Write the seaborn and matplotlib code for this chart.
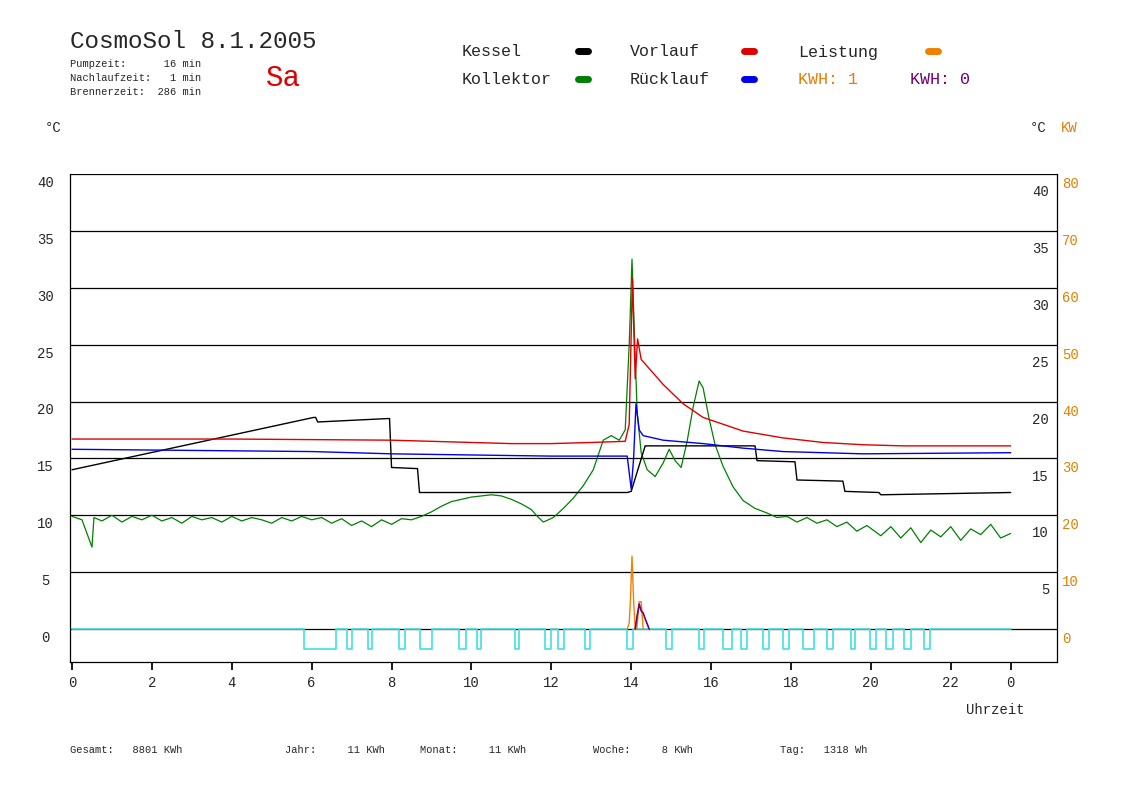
import numpy as np
import matplotlib.pyplot as plt
import seaborn as sns
from matplotlib.lines import Line2D

sns.set_theme(style='white')
plt.rcParams['font.family'] = ['Liberation Mono', 'DejaVu Sans Mono']

# --- data (hours / degC) ---
kessel_t = [0, 6.05, 6.1, 6.15, 7.9, 7.95, 8.0, 8.65, 8.7, 13.9, 14.0, 14.35, 17.1, 17.15, 18.1, 18.15, 19.3, 19.35, 20.2, 20.25, 23.5]
kessel_v = [14.0, 18.6, 18.6, 18.2, 18.5, 18.5, 14.2, 14.1, 12.0, 12.0, 12.1, 16.1, 16.1, 14.8, 14.7, 13.1, 13.0, 12.1, 12.0, 11.8, 12.0]

vorlauf_t = [0, 4, 8, 9, 11, 12, 13, 13.85, 13.95, 14.03, 14.1, 14.16, 14.25, 14.8, 15.3, 15.8, 16.8, 17.8, 18.8, 19.8, 20.8, 23.5]
vorlauf_v = [16.7, 16.7, 16.6, 16.5, 16.3, 16.3, 16.4, 16.5, 18.0, 30.8, 22.0, 25.5, 23.7, 21.5, 19.8, 18.6, 17.4, 16.8, 16.4, 16.2, 16.1, 16.1]

ruecklauf_t = [0, 6, 8, 12, 13.9, 14.0, 14.06, 14.12, 14.2, 14.3, 14.8, 15.8, 16.8, 17.8, 19.8, 23.5]
ruecklauf_v = [15.8, 15.6, 15.4, 15.2, 15.2, 12.3, 15.0, 19.8, 17.5, 17.0, 16.6, 16.3, 15.9, 15.6, 15.4, 15.5]

kollektor_t = [0.0, 0.25, 0.5, 0.55, 0.75, 1.0, 1.25, 1.5, 1.75, 2.0, 2.25, 2.5, 2.75, 3.0, 3.25, 3.5, 3.75,
               4.0, 4.25, 4.5, 4.75, 5.0, 5.25, 5.5, 5.75, 6.0, 6.25, 6.5, 6.75, 7.0, 7.25, 7.5, 7.75, 8.0,
               8.25, 8.5, 8.75, 9.0, 9.25, 9.5, 9.75, 10.0, 10.25, 10.5, 10.75, 11.0, 11.25, 11.5, 11.65,
               11.8, 12.05, 12.3, 12.55, 12.8, 13.05, 13.3, 13.5, 13.7, 13.85, 13.95, 14.02, 14.08, 14.15,
               14.25, 14.4, 14.6, 14.8, 14.95, 15.1, 15.25, 15.4, 15.55, 15.7, 15.8, 15.95, 16.1, 16.3,
               16.55, 16.8, 17.1, 17.4, 17.65, 17.9, 18.15, 18.4, 18.65, 18.9, 19.15, 19.4, 19.65, 19.9,
               20.25, 20.5, 20.75, 21.0, 21.25, 21.5, 21.75, 22.0, 22.25, 22.5, 22.75, 23.0, 23.25, 23.5]
kollektor_v = [9.9, 9.6, 7.2, 9.8, 9.5, 10.0, 9.4, 9.9, 9.6, 10.0, 9.5, 9.8, 9.3, 9.9, 9.6, 9.8, 9.4,
               9.9, 9.5, 9.8, 9.6, 9.3, 9.8, 9.5, 9.9, 9.6, 9.8, 9.3, 9.7, 9.1, 9.5, 9.0, 9.6, 9.2,
               9.7, 9.6, 9.9, 10.3, 10.8, 11.2, 11.4, 11.6, 11.7, 11.8, 11.7, 11.4, 11.0, 10.5, 9.9,
               9.4, 9.8, 10.6, 11.5, 12.6, 14.0, 16.6, 17.0, 16.6, 17.5, 25.0, 32.5, 26.0, 19.0,
               15.5, 14.0, 13.4, 14.6, 15.8, 14.8, 14.2, 16.5, 19.5, 21.8, 21.2, 18.5, 16.2, 14.3,
               12.5, 11.3, 10.6, 10.2, 9.8, 9.9, 9.4, 9.8, 9.3, 9.6, 9.0, 9.4, 8.6, 9.1,
               8.2, 9.0, 8.0, 8.9, 7.6, 8.7, 8.1, 9.0, 7.8, 8.8, 8.3, 9.2, 8.0, 8.4]

leistung_t = [13.9, 13.95, 13.98, 14.02, 14.06, 14.1, 14.14, 14.2, 14.25, 14.3]
leistung_v = [0.0, 0.5, 2.5, 6.4, 2.5, 0.0, 0.0, 2.4, 2.4, 0.0]

kwh_t = [14.1, 14.15, 14.2, 14.25, 14.3, 14.35, 14.45]
kwh_v = [0.0, 1.2, 2.2, 1.6, 1.4, 0.9, 0.0]

pumpe_start = [5.81, 6.89, 7.41, 8.19, 8.72, 9.70, 10.13, 11.08, 11.85, 12.16, 12.85, 13.90, 14.87,
               15.70, 16.29, 16.75, 17.29, 17.81, 18.30, 18.91, 19.50, 19.98, 20.39, 20.82, 21.32]
pumpe_end = [6.60, 7.02, 7.52, 8.33, 9.02, 9.87, 10.25, 11.19, 12.00, 12.31, 12.98, 14.05, 15.01,
             15.82, 16.53, 16.91, 17.44, 17.95, 18.58, 19.04, 19.61, 20.13, 20.55, 21.00, 21.47]
pumpe_tief = -1.75

x_ticks = [0, 2, 4, 6, 8, 10, 12, 14, 16, 18, 20, 22, 23.5]
x_labels = ['0', '2', '4', '6', '8', '10', '12', '14', '16', '18', '20', '22', '0']
y_ticks = [0, 5, 10, 15, 20, 25, 30, 35, 40]

fig = plt.figure(figsize=(11.48, 8.12), dpi=100, facecolor='white')
ax = fig.add_axes([70 / 1148, 1 - 663 / 812, 987 / 1148, 488 / 812])
ax.set_xlim(-0.05, 24.66)
ax.set_ylim(-2.9, 40)

for yv in y_ticks:
    ax.axhline(yv, color='black', lw=0.9, zorder=1)

# pump pulses (cyan) as step trace
px, py = [0.0], [0.0]
for s, e in zip(pumpe_start, pumpe_end):
    px += [s, s, e, e]
    py += [0.0, pumpe_tief, pumpe_tief, 0.0]
px.append(23.5)
py.append(0.0)
sns.lineplot(x=px, y=py, ax=ax, color='#40e0e0', lw=1.2, sort=False, estimator=None, zorder=2)

sns.lineplot(x=kollektor_t, y=kollektor_v, ax=ax, color='#008000', lw=0.9, sort=False, estimator=None, zorder=3)
sns.lineplot(x=kessel_t, y=kessel_v, ax=ax, color='black', lw=1.0, sort=False, estimator=None, zorder=4)
sns.lineplot(x=vorlauf_t, y=vorlauf_v, ax=ax, color='#e00000', lw=1.0, sort=False, estimator=None, zorder=4)
sns.lineplot(x=ruecklauf_t, y=ruecklauf_v, ax=ax, color='#0000ee', lw=1.0, sort=False, estimator=None, zorder=4)
sns.lineplot(x=leistung_t, y=leistung_v, ax=ax, color='#f08000', lw=1.0, sort=False, estimator=None, zorder=5)
sns.lineplot(x=kwh_t, y=kwh_v, ax=ax, color='#700070', lw=1.2, sort=False, estimator=None, zorder=5)

for sp in ['left', 'right', 'bottom']:
    ax.spines[sp].set_color('black')
    ax.spines[sp].set_linewidth(0.9)
ax.spines['top'].set_visible(False)

ax.set_xticks(x_ticks)
ax.set_xticklabels(x_labels, fontsize=10)
ax.tick_params(axis='x', direction='out', length=6, color='black', bottom=True)
ax.set_yticks([])
for yv in y_ticks:
    ax.text(-0.025, yv - 0.7, str(yv), transform=ax.get_yaxis_transform(), ha='center', va='center', fontsize=10)
    if yv > 0:
        ax.text(0.992, yv - 0.9, str(yv), transform=ax.get_yaxis_transform(), ha='right', va='top', fontsize=10)
    ax.text(1.005, yv - 0.8, str(yv * 2), transform=ax.get_yaxis_transform(), ha='left', va='center',
            fontsize=10, color='#e08000')

# header
fig.text(70 / 1148, 1 - 42 / 812, 'CosmoSol 8.1.2005', fontsize=17.5, va='center')
for i, line in enumerate(['Pumpzeit:      16 min', 'Nachlaufzeit:   1 min', 'Brennerzeit:  286 min']):
    fig.text(70 / 1148, 1 - (64 + 14 * i) / 812, line, fontsize=7.5, va='center')
fig.text(266 / 1148, 1 - 78 / 812, 'Sa', fontsize=21, color='#e00000', va='center')

legend_items = [('Kessel', 462, 52, 'black', 578), ('Vorlauf', 630, 52, '#e00000', 744),
                ('Leistung', 798, 52, '#f08000', 928), ('Kollektor', 462, 80, '#008000', 578),
                ('Rücklauf', 630, 80, '#0000ee', 744)]
for name, tx, ty, col, mx in legend_items:
    fig.text(tx / 1148, 1 - ty / 812, name, fontsize=12, va='center')
    fig.add_artist(Line2D([mx / 1148, (mx + 10) / 1148], [1 - ty / 812] * 2, color=col, lw=5,
                          solid_capstyle='round', transform=fig.transFigure))
fig.text(798 / 1148, 1 - 80 / 812, 'KWH: 1', fontsize=12, color='#e08000', va='center')
fig.text(910 / 1148, 1 - 80 / 812, 'KWH: 0', fontsize=12, color='#700070', va='center')

fig.text(45 / 1148, 1 - 128 / 812, '°C', fontsize=10, va='center')
fig.text(1030 / 1148, 1 - 128 / 812, '°C', fontsize=10, va='center')
fig.text(1061 / 1148, 1 - 128 / 812, 'KW', fontsize=10, color='#e08000', va='center')
fig.text(966 / 1148, 1 - 710 / 812, 'Uhrzeit', fontsize=10, va='center')

for txt, tx in [('Gesamt:   8801 KWh', 70), ('Jahr:     11 KWh', 285), ('Monat:     11 KWh', 420),
                ('Woche:     8 KWh', 593), ('Tag:   1318 Wh', 780)]:
    fig.text(tx / 1148, 1 - 750 / 812, txt, fontsize=7.5, va='center')

fig.savefig('out.png', dpi=100, facecolor='white')
